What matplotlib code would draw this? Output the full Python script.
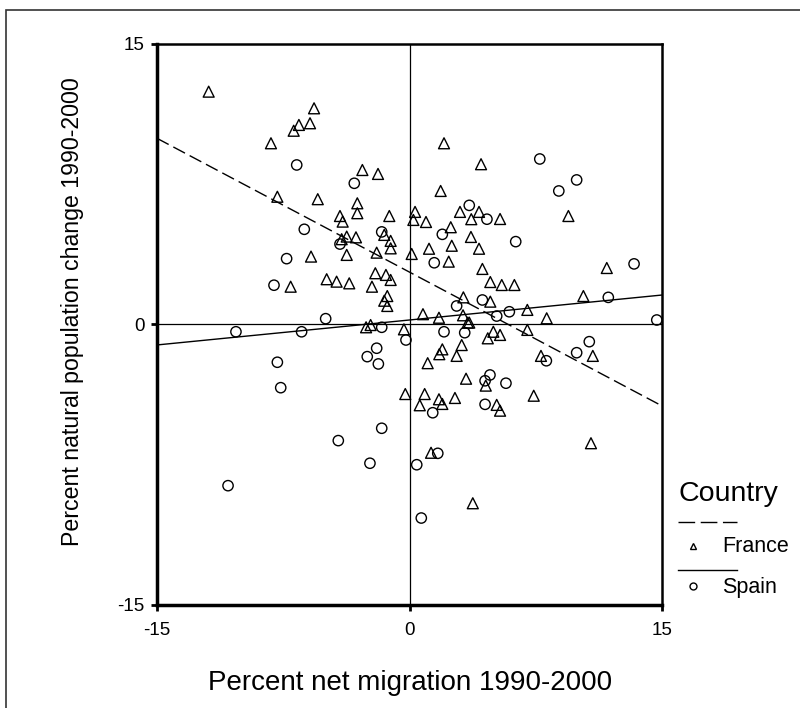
import matplotlib.pyplot as plt
import numpy as np
from matplotlib.lines import Line2D
from matplotlib.patches import Rectangle

plt.rcParams['font.family'] = ['Liberation Sans', 'DejaVu Sans']
plt.rcParams['axes.unicode_minus'] = False

# Percent net migration (x) and natural population change (y), 1990-2000
france_x = [-11.93, -5.67, -6.57, -5.91, -6.88, -8.23, -2.80, -1.87, -7.85, -5.45,
            -3.10, -3.10, -4.13, -1.20, -3.97, -4.03, -3.73, -3.18, -1.50, -1.12,
            -1.12, -5.85, -3.73, -1.95, 0.13, -4.92, -4.33, -3.58, -7.06, -2.23,
            -2.03, -1.40, -1.12, -1.32, -1.50, -1.32, -2.58, -2.31, -0.33, -0.25,
            2.05, 4.25, 1.85, 0.33, 0.23, 0.98, 3.00, 4.13, 3.67, 5.38,
            2.45, 9.44, 3.65, 2.51, 1.16, 4.13, 2.33, 4.33, 11.72, 4.80,
            5.48, 6.23, 3.20, 4.80, 10.33, 0.80, 1.75, 3.18, 7.00, 8.15,
            3.46, 3.55, 4.98, 5.38, 4.65, 7.00, 3.10, 1.95, 1.77, 2.80,
            1.08, 7.81, 10.89, 3.36, 4.53, 0.90, 2.70, 1.75, 1.95, 0.61,
            5.18, 5.38, 7.38, 10.78, 1.28, 3.76]
france_y = [12.45, 11.56, 10.67, 10.76, 10.36, 9.69, 8.26, 8.05, 6.83, 6.70,
            6.48, 5.95, 5.80, 5.80, 5.50, 4.56, 4.70, 4.66, 4.79, 4.47,
            4.07, 3.63, 3.72, 3.84, 3.77, 2.42, 2.29, 2.20, 2.02, 2.02,
            2.74, 2.65, 2.38, 1.52, 1.27, 0.99, -0.15, -0.03, -0.26, -3.72,
            9.69, 8.57, 7.14, 6.02, 5.59, 5.48, 6.02, 6.02, 5.63, 5.64,
            5.20, 5.80, 4.68, 4.21, 4.05, 4.05, 3.36, 2.97, 3.02, 2.27,
            2.11, 2.11, 1.45, 1.22, 1.52, 0.55, 0.36, 0.49, 0.78, 0.33,
            0.10, 0.10, -0.39, -0.56, -0.74, -0.29, -1.10, -1.33, -1.59, -1.68,
            -2.07, -1.68, -1.68, -2.90, -3.27, -3.72, -3.93, -4.00, -4.25, -4.32,
            -4.30, -4.61, -3.81, -6.35, -6.86, -9.56]

spain_x = [-6.70, -3.28, -6.25, -1.65, -4.13, -7.30, -8.05, -4.98, -10.31, -6.41,
           -1.65, -0.21, -1.95, -2.51, -1.85, -7.85, -7.65, -1.65, -4.23, -2.35,
           -10.78, 7.74, 9.93, 8.87, 3.55, 4.60, 1.95, 6.31, 1.47, 13.34,
           4.33, 2.80, 11.81, 5.93, 5.18, 14.69, 2.05, 3.28, 10.68, 9.93,
           8.13, 4.78, 4.49, 5.73, 4.49, 1.38, 1.68, 0.43, 0.70]
spain_y = [8.53, 7.55, 5.09, 4.95, 4.30, 3.52, 2.10, 0.31, -0.39, -0.39,
           -0.15, -0.83, -1.27, -1.72, -2.11, -2.02, -3.38, -5.55, -6.21, -7.42,
           -8.62, 8.85, 7.73, 7.14, 6.37, 5.63, 4.82, 4.43, 3.30, 3.24,
           1.31, 0.99, 1.45, 0.68, 0.45, 0.24, -0.39, -0.44, -0.92, -1.51,
           -1.94, -2.70, -3.01, -3.14, -4.27, -4.72, -6.89, -7.50, -10.35]

# fitted lines (intercept, slope) per country
france_fit = (2.80, -0.477)
spain_fit = (0.24, 0.089)

fig = plt.figure(figsize=(8, 7.08), dpi=100)
ax = fig.add_axes([0.19625, 0.1455, 0.63125, 0.7924])

# outer chart frame
fig.add_artist(Rectangle((6 / 800, -0.1), 1.2, 1 - 10 / 708 + 0.1, transform=fig.transFigure,
                         fill=False, edgecolor='#333333', linewidth=1.2))

ax.axhline(0, color='black', linewidth=0.9, zorder=1)
ax.axvline(0, color='black', linewidth=0.9, zorder=1)

ax.scatter(france_x, france_y, marker='^', s=62, facecolors='none',
           edgecolors='black', linewidths=1.0, zorder=3)
ax.scatter(spain_x, spain_y, marker='o', s=55, facecolors='none',
           edgecolors='black', linewidths=1.0, zorder=3)

xs = np.array([-15, 15])
ax.plot(xs, france_fit[0] + france_fit[1] * xs, color='black', linewidth=1.0,
        dashes=(9.5, 3.8), zorder=2)
ax.plot(xs, spain_fit[0] + spain_fit[1] * xs, color='black', linewidth=1.0, zorder=2)

ax.set_xlim(-15, 15)
ax.set_ylim(-15, 15)
ax.set_xticks([-15, 0, 15])
ax.set_yticks([-15, 0, 15])
ax.tick_params(direction='out', length=4, width=2, labelsize=13.5, pad=5)
ax.tick_params(axis='x', pad=8)
for side in ['left', 'bottom']:
    ax.spines[side].set_linewidth(2.5)
for side in ['top', 'right']:
    ax.spines[side].set_linewidth(1.8)

fig.text(410 / 800, 1 - 683 / 708, 'Percent net migration 1990-2000',
         ha='center', va='center', fontsize=20)
fig.text(73 / 800, 1 - 312 / 708, 'Percent natural population change 1990-2000',
         ha='center', va='center', rotation=90, fontsize=16.7)

# legend
fig.text(678 / 800, 1 - 494 / 708, 'Country', ha='left', va='center', fontsize=20.5)
fig.add_artist(Line2D([678 / 800, 737 / 800], [1 - 521.5 / 708] * 2, transform=fig.transFigure,
                      color='black', linewidth=1.0, dashes=(12, 4)))
fig.add_artist(Line2D([693 / 800], [1 - 546 / 708], transform=fig.transFigure, marker='^',
                      markersize=5, markerfacecolor='none', markeredgecolor='black',
                      markeredgewidth=1.0, linestyle='none'))
fig.text(722 / 800, 1 - 547 / 708, 'France', ha='left', va='center', fontsize=15.5)
fig.add_artist(Line2D([678 / 800, 737 / 800], [1 - 569.5 / 708] * 2, transform=fig.transFigure,
                      color='black', linewidth=1.0))
fig.add_artist(Line2D([693 / 800], [1 - 586 / 708], transform=fig.transFigure, marker='o',
                      markersize=5, markerfacecolor='none', markeredgecolor='black',
                      markeredgewidth=1.0, linestyle='none'))
fig.text(722 / 800, 1 - 587 / 708, 'Spain', ha='left', va='center', fontsize=15.5)

fig.savefig('out.png', dpi=100)
